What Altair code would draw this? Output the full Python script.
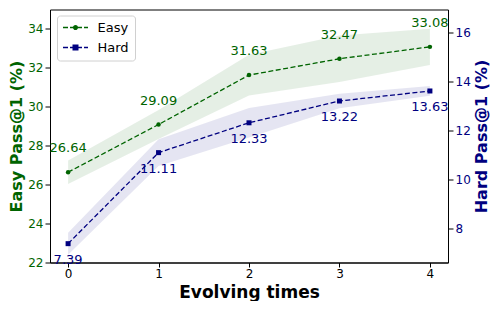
import altair as alt
import pandas as pd

steps = [0, 1, 2, 3, 4]
easy = [26.64, 29.09, 31.63, 32.47, 33.08]
easy_sd = [0.6, 0.75, 1.05, 1.2, 0.93]
hard = [7.39, 11.11, 12.33, 13.22, 13.63]
hard_sd = [0.45, 0.55, 0.6, 0.3, 0.2]
series = ["Easy", "Hard"]

GREEN = "#006400"
NAVY = "#000080"
FONT = "DejaVu Sans"

df = pd.DataFrame({
    "step": steps,
    "easy": easy,
    "easy_lo": [v - s for v, s in zip(easy, easy_sd)],
    "easy_hi": [v + s for v, s in zip(easy, easy_sd)],
    "hard": hard,
    "hard_lo": [v - s for v, s in zip(hard, hard_sd)],
    "hard_hi": [v + s for v, s in zip(hard, hard_sd)],
    "series": ["Easy"] * len(steps),
})

base = alt.Chart(df)

x_enc = alt.X(
    "step:Q",
    scale=alt.Scale(domain=[-0.2, 4.2], nice=False, zero=False),
    axis=alt.Axis(values=steps, format="d", title="Evolving times",
                  titleFontSize=17, titleFontWeight="bold", titleColor="black",
                  labelFontSize=12, labelColor="black", tickSize=4.5,
                  labelPadding=1, titlePadding=5, grid=False),
)

easy_scale = alt.Scale(domain=[22, 35], nice=False, zero=False)
hard_scale = alt.Scale(domain=[6.62, 16.96], nice=False, zero=False)

easy_axis = alt.Axis(orient="left", values=[22, 24, 26, 28, 30, 32, 34],
                     title="Easy Pass@1 (%)", titleColor=GREEN, titleFontSize=16,
                     titleFontWeight="bold", labelColor=GREEN, labelFontSize=12,
                     tickSize=5, labelPadding=2, titlePadding=3, grid=False)
hard_axis = alt.Axis(orient="right", values=[8, 10, 12, 14, 16],
                     title="Hard Pass@1 (%)", titleColor=NAVY, titleFontSize=16,
                     titleFontWeight="bold", titleAngle=270, titleBaseline="top",
                     labelColor=NAVY, labelFontSize=12,
                     tickSize=5, labelPadding=2, titlePadding=3, grid=False)

# legend symbols: dashed line with marker (custom paths)
dashes = ("M-1,-0.11H-0.1667V0.11H-1Z"
          "M0.1667,-0.11H0.6667V0.11H0.1667Z"
          "M1.5,-0.11H2.1667V0.11H1.5Z"
          "M2.5,-0.11H3.1667V0.11H2.5Z")
circle_sym = dashes + "M1.5133,0A0.43,0.43 0 1,1 0.6533,0A0.43,0.43 0 1,1 1.5133,0Z"
square_sym = dashes + "M0.5833,-0.5H1.5833V0.5H0.5833Z"

legend_cfg = dict(title=None, orient="none", legendX=7, legendY=6,
                  symbolSize=144, symbolStrokeWidth=0,
                  labelOffset=22, rowPadding=6, padding=5.5,
                  labelFontSize=13, labelFont=FONT, labelColor="black",
                  fillColor="white", strokeColor="#d0d0d0",
                  cornerRadius=3, symbolOpacity=1)

easy_band = base.mark_area(color=GREEN, opacity=0.1).encode(
    x=x_enc, y=alt.Y("easy_lo:Q", scale=easy_scale, axis=easy_axis), y2="easy_hi:Q")
easy_line = base.mark_line(color=GREEN, strokeDash=[5, 2.5], strokeWidth=1.3).encode(
    x=x_enc, y=alt.Y("easy:Q", scale=easy_scale, axis=easy_axis))
easy_pts = base.mark_point(filled=True, shape="circle", size=20, color=GREEN, opacity=1).encode(
    x=x_enc, y=alt.Y("easy:Q", scale=easy_scale, axis=easy_axis))
easy_txt = base.mark_text(dy=-24, color=GREEN, fontSize=13, font=FONT).encode(
    x=x_enc, y=alt.Y("easy:Q", scale=easy_scale, axis=easy_axis),
    text=alt.Text("easy:Q", format=".2f"))
legend_layer = base.transform_filter("false").mark_point(filled=True, opacity=1, size=144).encode(
    x=x_enc, y=alt.Y("easy:Q", scale=easy_scale, axis=easy_axis),
    color=alt.Color("series:N", scale=alt.Scale(domain=series, range=[GREEN, NAVY]),
                    legend=alt.Legend(**legend_cfg)),
    shape=alt.Shape("series:N", scale=alt.Scale(domain=series, range=[circle_sym, square_sym]),
                    legend=alt.Legend(**legend_cfg)),
)

hard_band = base.mark_area(color=NAVY, opacity=0.1).encode(
    x=x_enc, y=alt.Y("hard_lo:Q", scale=hard_scale, axis=hard_axis), y2="hard_hi:Q")
hard_line = base.mark_line(color=NAVY, strokeDash=[5, 2.5], strokeWidth=1.3).encode(
    x=x_enc, y=alt.Y("hard:Q", scale=hard_scale, axis=hard_axis))
hard_pts = base.mark_point(filled=True, shape="square", size=25, color=NAVY, opacity=1).encode(
    x=x_enc, y=alt.Y("hard:Q", scale=hard_scale, axis=hard_axis))
hard_txt = base.mark_text(dy=16, color=NAVY, fontSize=13, font=FONT).encode(
    x=x_enc, y=alt.Y("hard:Q", scale=hard_scale, axis=hard_axis),
    text=alt.Text("hard:Q", format=".2f"))

easy_layer = alt.layer(easy_band, easy_line, easy_pts, easy_txt, legend_layer)
hard_layer = alt.layer(hard_band, hard_line, hard_pts, hard_txt)

chart = alt.layer(easy_layer, hard_layer).resolve_scale(
    y="independent", color="independent", shape="independent"
).properties(
    width=398, height=253, background="white",
    padding={"left": 0, "top": 1.5, "right": 0, "bottom": 0},
).configure_view(
    stroke="black", strokeWidth=1
).configure_axis(
    labelFont=FONT, titleFont=FONT, domainColor="black", tickColor="black", domainWidth=1
)

chart.save("out.html", embed_options={"renderer": "svg", "actions": False})
